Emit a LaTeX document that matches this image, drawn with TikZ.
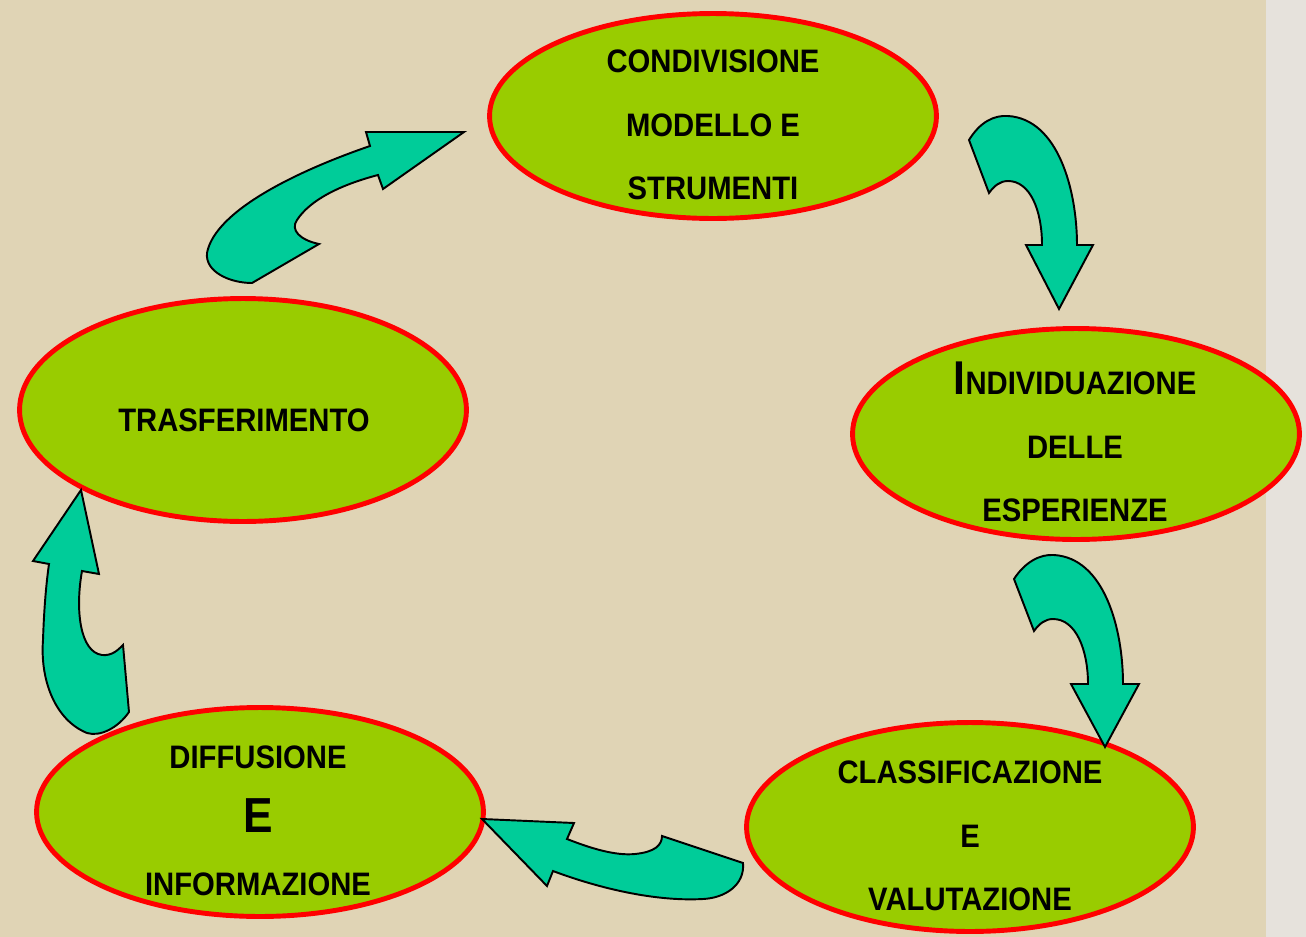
\documentclass[tikz,border=0pt]{standalone}
\usepackage{fontspec}
\newfontfamily\cyclefont[FakeStretch=0.9]{Liberation Sans}
\definecolor{PaperBeige}{HTML}{E0D4B5}
\definecolor{EdgeGrey}{HTML}{E6E2DC}
\definecolor{LeafGreen}{HTML}{99CC00}
\definecolor{RingRed}{HTML}{FF0000}
\definecolor{ArrowTeal}{HTML}{00CC99}
\usetikzlibrary{shapes.geometric,calc}

\begin{document}
\begin{tikzpicture}[x=0.02cm,y=-0.02cm,
  phase/.style={ellipse,draw=RingRed,line width=2.8pt,fill=LeafGreen,
                minimum width=8.94cm,inner sep=0pt},
  phasetext/.style={align=center,font=\cyclefont\bfseries\fontsize{18.5}{36}\selectfont},
  bendarrow/.style={fill=ArrowTeal,draw=black,line width=1.1pt}]
\fill[PaperBeige] (0,0) rectangle (1306,937);
\fill[EdgeGrey] (1266,0) rectangle (1306,937);
\useasboundingbox (0,0) rectangle (1306,937);
\node[phase, minimum height=4.1cm] (condivisione) at (713,116) {};
\node[phase, minimum height=4.22cm] (individuazione) at (1076,434) {};
\node[phase, minimum height=4.18cm] (classificazione) at (970,827) {};
\node[phase, minimum height=4.18cm] (diffusione) at (260,812) {};
\node[phase, minimum height=4.46cm] (trasferimento) at (243,410) {};
\node[phasetext] (condivisionetxt) at ($(condivisione.center)+(0,9)$)
  {CONDIVISIONE\\MODELLO E\\STRUMENTI};
\node[phasetext] (individuazionetxt) at ($(individuazione.center)+(-1,8)$)
  {{\fontsize{27}{36}\selectfont I}NDIVIDUAZIONE\\DELLE\\ESPERIENZE};
\node[phasetext] (classificazionetxt) at ($(classificazione.center)+(0,9)$)
  {CLASSIFICAZIONE\\E\\VALUTAZIONE};
\node[phasetext] (diffusionetxt) at ($(diffusione.center)+(-2,9)$)
  {DIFFUSIONE\\{\fontsize{28}{36}\selectfont E}\\INFORMAZIONE};
\node[phasetext] (trasferimentotxt) at ($(trasferimento.center)+(1,10)$)
  {TRASFERIMENTO};
\draw[bendarrow] (969,140) .. controls (980,122) and (994,115) .. (1008,116)
  .. controls (1058,119) and (1077,190) .. (1077,245) -- (1093,245) -- (1059,309)
  -- (1026,245) -- (1042,245) .. controls (1042,210) and (1030,181) .. (1008,181)
  .. controls (1000,181) and (994,186) .. (989,193) -- cycle;
\draw[bendarrow] (1014,579) .. controls (1025,562) and (1040,554) .. (1054,555)
  .. controls (1104,558) and (1123,628) .. (1123,684) -- (1139,684) -- (1105,747)
  -- (1071,684) -- (1088,684) .. controls (1088,650) and (1076,619) .. (1053,619)
  .. controls (1045,619) and (1039,624) .. (1034,631) -- cycle;
\draw[bendarrow] (482,819) -- (574,823) -- (567,839)
  .. controls (590,848) and (615,856) .. (635,854)
  .. controls (655,852) and (662,845) .. (662,836) -- (743,863)
  .. controls (745,885) and (725,898) .. (703,899)
  .. controls (650,902) and (590,885) .. (553,871) -- (547,886) -- cycle;
\draw[bendarrow] (81,490) -- (99,574) -- (82,571)
  .. controls (75,610) and (80,652) .. (102,655)
  .. controls (112,656) and (118,650) .. (123,645) -- (129,712)
  .. controls (118,728) and (100,737) .. (87,733)
  .. controls (55,720) and (40,680) .. (43,640)
  .. controls (44,610) and (46,585) .. (49,564) -- (33,561) -- cycle;
\draw[bendarrow] (464,132) -- (366,132) -- (370,146)
  .. controls (300,170) and (215,210) .. (207,253)
  .. controls (205,272) and (230,283) .. (252,283) -- (319,244)
  .. controls (300,240) and (290,230) .. (297,220)
  .. controls (310,200) and (340,185) .. (378,175) -- (383,189) -- cycle;
\end{tikzpicture}
\end{document}
